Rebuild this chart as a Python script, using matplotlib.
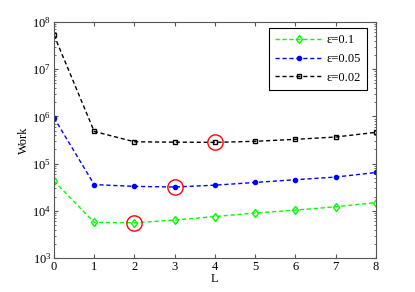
import numpy as np
import matplotlib
matplotlib.use("Agg")
import matplotlib.pyplot as plt

plt.rcParams['font.family'] = ['Liberation Serif', 'DejaVu Serif']
plt.rcParams['font.size'] = 9

L = [0, 1, 2, 3, 4, 5, 6, 7, 8]
work_eps01 = [4.3e4, 5.7e3, 5.6e3, 6.4e3, 7.6e3, 9.0e3, 1.04e4, 1.22e4, 1.5e4]
work_eps005 = [9.4e5, 3.6e4, 3.3e4, 3.2e4, 3.5e4, 4.0e4, 4.57e4, 5.2e4, 6.5e4]
work_eps002 = [5.3e7, 4.8e5, 2.9e5, 2.85e5, 2.82e5, 2.97e5, 3.27e5, 3.66e5, 4.6e5]

fig = plt.figure(figsize=(4.15, 2.92), dpi=100)
ax = fig.add_axes([0.130, 0.116, 0.776, 0.809])

ax.plot(L, work_eps01, '--', color='#00ff00', dashes=(3, 2), marker='d', mfc='none',
        mec='#00ff00', ms=4.5, mew=1, lw=1, label='ε=0.1')
ax.plot(L, work_eps005, '--', color='#0000ff', dashes=(3, 2), marker='o', mfc='#0000ff',
        mec='#0000ff', ms=3, lw=1, label='ε=0.05')
ax.plot(L, work_eps002, '--', color='black', dashes=(3, 2), marker='s', mfc='none',
        mec='black', ms=3.5, lw=1, label='ε=0.02')

# minima
for series in [work_eps01, work_eps005, work_eps002]:
    i = int(np.argmin(series))
    ax.plot(L[i], series[i], 'o', ms=11, mfc='none', mec='red', mew=1)

ax.set_yscale('log')
ax.set_xlim(0, 8)
ax.set_ylim(1e3, 1e8)
ax.set_xticks(L)
ax.set_xlabel('L', labelpad=0)
ax.set_ylabel('Work', labelpad=2)

for s in ax.spines.values():
    s.set_color('#555555')
    s.set_linewidth(0.8)
ax.tick_params(which='both', direction='in', top=True, right=True, colors='#555555',
               labelcolor='black', pad=2)
ax.tick_params(which='major', length=3)
ax.tick_params(which='minor', length=1.5)

leg = ax.legend(loc='upper right', bbox_to_anchor=(0.972, 0.975), numpoints=1,
                fancybox=False, framealpha=1, edgecolor='black', handlelength=3.8,
                borderpad=0.5, labelspacing=0.55, handletextpad=0.3, borderaxespad=0)
leg.get_frame().set_linewidth(0.8)

fig.savefig('out.png', dpi=100)
